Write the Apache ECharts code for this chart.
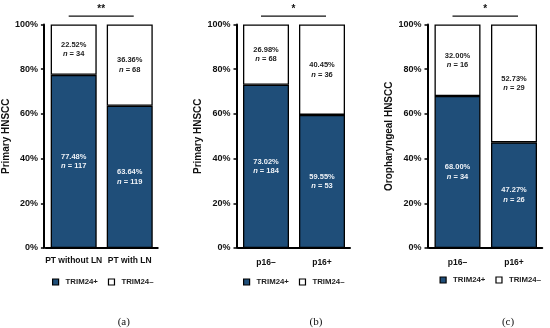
<!DOCTYPE html>
<html>
<head>
<meta charset="utf-8">
<script src="https://cdn.jsdelivr.net/npm/echarts@6/dist/echarts.min.js"></script>
<style>
html,body{margin:0;padding:0;background:#fff;}
#chart{width:550px;height:328px;}
</style>
</head>
<body>
<div id="chart"></div>
<script>
// ---- data ----
const categoriesA = ['PT without LN', 'PT with LN'];
const categoriesB = ['p16–', 'p16+'];
const categoriesC = ['p16–', 'p16+'];

const posPctA = [77.48, 63.64];
const negPctA = [22.52, 36.36];
const posNA = [117, 119];
const negNA = [34, 68];

const posPctB = [73.02, 59.55];
const negPctB = [26.98, 40.45];
const posNB = [184, 53];
const negNB = [68, 36];

const posPctC = [68.00, 47.27];
const negPctC = [32.00, 52.73];
const posNC = [34, 26];
const negNC = [16, 29];

const yTitles = ['Primary HNSCC', 'Primary HNSCC', 'Oropharyngeal HNSCC'];
const sigStars = ['**', '*', '*'];
const panelLabels = ['(a)', '(b)', '(c)'];
const legendNames = ['TRIM24+', 'TRIM24–'];

// ---- styles ----
const BLUE = '#1F4E79';
const FONT = '"Liberation Sans", Arial, sans-serif';

const panels = [
  {cats: categoriesA, pos: posPctA, neg: negPctA, posN: posNA, negN: negNA,
   grid: {left: 44.75, width: 113}, yOffset: 1.75, nameGap: 31, labelMargin: 8, legendLeft: 52, legendTop: 278},
  {cats: categoriesB, pos: posPctB, neg: negPctB, posN: posNB, negN: negNB,
   grid: {left: 238, width: 112}, yOffset: 1.5, nameGap: 33, labelMargin: 10, legendLeft: 243, legendTop: 278},
  {cats: categoriesC, pos: posPctC, neg: negPctC, posN: posNC, negN: negNC,
   grid: {left: 429.25, width: 113}, yOffset: 1.75, nameGap: 30, labelMargin: 10, legendLeft: 439.5, legendTop: 276}
];

function labelFmt(nArr) {
  return function (p) {
    return p.value.toFixed(2) + '%\n{i|n} = ' + nArr[p.dataIndex];
  };
}

const grids = [], xAxes = [], yAxes = [], series = [], legends = [];
panels.forEach((pn, i) => {
  grids.push({left: pn.grid.left, width: pn.grid.width, top: 24.5, height: 223.5});
  xAxes.push({
    type: 'category', gridIndex: i, data: pn.cats,
    axisLine: {show: true, lineStyle: {color: '#000', width: 2}},
    axisTick: {show: false},
    axisLabel: {interval: 0, color: '#111', fontFamily: FONT, fontWeight: 'bold', fontSize: 8.5, margin: pn.labelMargin}
  });
  yAxes.push({
    type: 'value', gridIndex: i, min: 0, max: 100, interval: 20, offset: pn.yOffset,
    name: yTitles[i], nameLocation: 'middle', nameGap: pn.nameGap,
    nameTextStyle: {color: '#111', fontFamily: FONT, fontWeight: 'bold', fontSize: 10},
    axisLine: {show: true, lineStyle: {color: '#000', width: 2}},
    axisTick: {show: true, length: 3, lineStyle: {color: '#000', width: 1.5}},
    splitLine: {show: false},
    axisLabel: {formatter: '{value}%', color: '#111', fontFamily: FONT, fontWeight: 'bold', fontSize: 9, margin: 6}
  });
  series.push({
    name: legendNames[0], type: 'bar', stack: 's' + i, xAxisIndex: i, yAxisIndex: i,
    data: pn.pos, barWidth: 46,
    itemStyle: {color: BLUE, borderColor: '#000', borderWidth: 1.3},
    label: {show: true, position: 'inside', formatter: labelFmt(pn.posN),
      color: '#eef2f7', fontFamily: FONT, fontWeight: 'bold', fontSize: 7.5, lineHeight: 9.5,
      rich: {i: {fontStyle: 'italic', fontWeight: 'bold', fontFamily: FONT, fontSize: 7.5, color: '#eef2f7', lineHeight: 9.5}}}
  });
  series.push({
    name: legendNames[1], type: 'bar', stack: 's' + i, xAxisIndex: i, yAxisIndex: i,
    data: pn.neg, barWidth: 46,
    itemStyle: {color: '#fff', borderColor: '#000', borderWidth: 1.3},
    label: {show: true, position: 'inside', formatter: labelFmt(pn.negN),
      color: '#222', fontFamily: FONT, fontWeight: 'bold', fontSize: 7.5, lineHeight: 9.5,
      rich: {i: {fontStyle: 'italic', fontWeight: 'bold', fontFamily: FONT, fontSize: 7.5, color: '#222', lineHeight: 9.5}}}
  });
  legends.push({
    left: pn.legendLeft, top: pn.legendTop, padding: 0, orient: 'horizontal',
    itemWidth: 6, itemHeight: 6, itemGap: 10,
    icon: 'rect', selectedMode: false,
    data: legendNames.map(n => ({name: n})),
    itemStyle: {borderColor: '#000', borderWidth: 1.2},
    textStyle: {color: '#222', fontFamily: FONT, fontWeight: 'bold', fontSize: 7.8, padding: [0, 0, 0, 2]}
  });
});

const chart = echarts.init(document.getElementById('chart'), null, {renderer: 'canvas'});
chart.setOption({
  animation: false,
  backgroundColor: '#fff',
  grid: grids, xAxis: xAxes, yAxis: yAxes, series: series, legend: legends
});

// significance bars and panel labels, placed through the axes
const graphics = [];
panels.forEach((pn, i) => {
  const p0 = chart.convertToPixel({gridIndex: i}, [0, 104]);
  const p1 = chart.convertToPixel({gridIndex: i}, [1, 104]);
  const x0 = p0[0] - 5, x1 = p1[0] + 4;
  graphics.push({type: 'line', shape: {x1: x0, y1: p0[1] + 0.5, x2: x1, y2: p0[1] + 0.5},
    style: {stroke: '#111', lineWidth: 1.3}});
  graphics.push({type: 'text', x: (x0 + x1) / 2, y: p0[1] - 1,
    style: {text: sigStars[i], fill: '#111', font: 'bold 10px ' + FONT, align: 'center', verticalAlign: 'bottom'}});
  const base = chart.convertToPixel({gridIndex: i}, [0.5, 0]);
  graphics.push({type: 'text', x: base[0] - 6, y: 322,
    style: {text: panelLabels[i], fill: '#111', font: '11px "Liberation Serif", "Times New Roman", serif', align: 'center', verticalAlign: 'middle'}});
});
chart.setOption({graphic: graphics});
</script>
</body>
</html>
